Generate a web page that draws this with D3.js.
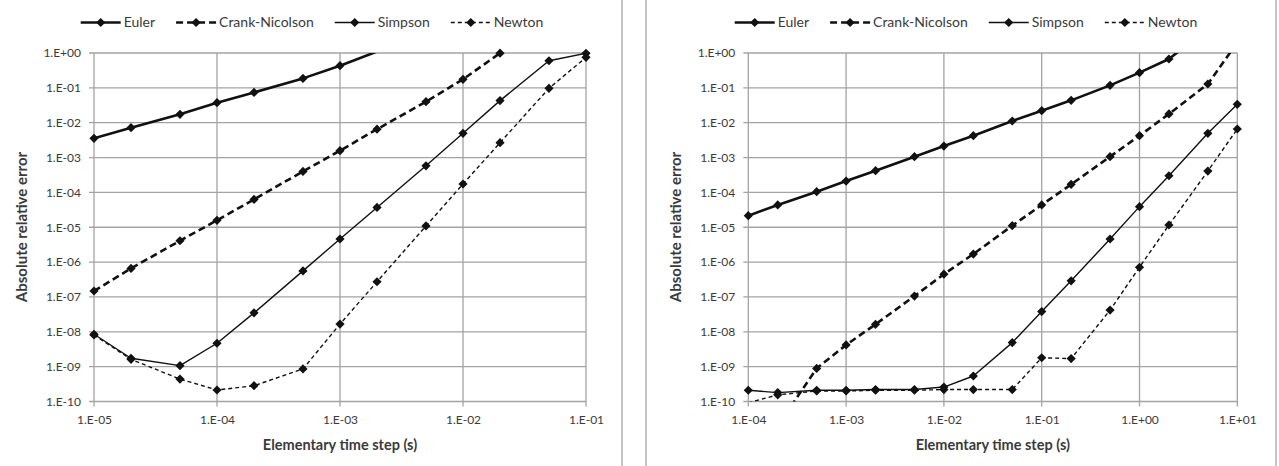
<!DOCTYPE html>
<html><head><meta charset="utf-8">
<script src="https://cdn.jsdelivr.net/npm/d3@7"></script>
<style>
html,body{margin:0;padding:0;background:#fff;}
svg{display:block;font-family:Lato,"Open Sans",sans-serif;}
</style></head>
<body>
<svg id="chart" width="1279" height="466"></svg>
<script>
// ---------- DATA ----------
const seriesNames = ["Euler", "Crank-Nicolson", "Simpson", "Newton"];

const leftSteps = [1e-5, 2e-5, 5e-5, 1e-4, 2e-4, 5e-4, 1e-3, 2e-3, 5e-3, 1e-2, 2e-2, 5e-2, 1e-1];
const leftEuler = [3.56e-3, 7.2e-3, 1.74e-2, 3.76e-2, 7.4e-2, 0.187, 0.433, 1.1, null, null, null, null, null];
const leftCrank = [1.48e-7, 6.6e-7, 4.1e-6, 1.58e-5, 6.3e-5, 4.0e-4, 1.58e-3, 6.5e-3, 0.040, 0.176, 0.99, null, null];
const leftSimpson = [8.5e-9, 1.74e-9, 1.07e-9, 4.7e-9, 3.5e-8, 5.6e-7, 4.6e-6, 3.7e-5, 5.8e-4, 4.95e-3, 0.043, 0.60, 0.98];
const leftNewton = [8.1e-9, 1.62e-9, 4.4e-10, 2.14e-10, 2.84e-10, 8.6e-10, 1.67e-8, 2.73e-7, 1.09e-5, 1.74e-4, 2.67e-3, 0.097, 0.75];

const rightSteps = [1e-4, 2e-4, 5e-4, 1e-3, 2e-3, 5e-3, 1e-2, 2e-2, 5e-2, 1e-1, 2e-1, 5e-1, 1, 2, 5, 10];
const rightEuler = [2.15e-5, 4.36e-5, 1.05e-4, 2.12e-4, 4.2e-4, 1.06e-3, 2.14e-3, 4.25e-3, 1.12e-2, 2.21e-2, 4.38e-2, 0.118, 0.273, 0.673, 5, null];
const rightCrank = [1e-11, 2e-11, 8.9e-10, 4.2e-9, 1.64e-8, 1.06e-7, 4.5e-7, 1.7e-6, 1.11e-5, 4.36e-5, 1.7e-4, 1.06e-3, 4.25e-3, 1.78e-2, 0.129, 2.0];
const rightSimpson = [2.1e-10, 1.8e-10, 2.1e-10, 2.1e-10, 2.2e-10, 2.2e-10, 2.6e-10, 5.4e-10, 4.9e-9, 3.8e-8, 2.9e-7, 4.6e-6, 3.9e-5, 3.0e-4, 4.95e-3, 3.37e-2];
const rightNewton = [9.2e-11, 1.55e-10, 2.0e-10, 2.0e-10, 2.1e-10, 2.1e-10, 2.2e-10, 2.2e-10, 2.2e-10, 1.8e-9, 1.7e-9, 4.2e-8, 7.1e-7, 1.16e-5, 4.1e-4, 6.6e-3];

const leftXTicks = [1e-5, 1e-4, 1e-3, 1e-2, 1e-1];
const rightXTicks = [1e-4, 1e-3, 1e-2, 1e-1, 1, 10];
const yTicks = [1, 1e-1, 1e-2, 1e-3, 1e-4, 1e-5, 1e-6, 1e-7, 1e-8, 1e-9, 1e-10];

const xTitle = "Elementary time step (s)";
const yTitle = "Absolute relative error";

// ---------- STYLE ----------
const styles = [
  {width: 2.6, dash: null},
  {width: 2.6, dash: "7,4"},
  {width: 1.4, dash: null},
  {width: 1.4, dash: "4,3"}
];
const ink = "#111";
const textColor = "#3a3a3a";
const gridColor = "#a3a3a3";

function expFmt(v) {
  const e = Math.round(Math.log10(v));
  const s = e < 0 ? "-" : "+";
  const a = Math.abs(e);
  return "1.E" + s + (a < 10 ? "0" + a : "" + a);
}

const svg = d3.select("#chart");

function drawPanel(opt, idx) {
  const g = svg.append("g");
  g.append("rect").attr("x", opt.frame[0]).attr("y", -3)
    .attr("width", opt.frame[1] - opt.frame[0]).attr("height", 472)
    .attr("fill", "#fff").attr("stroke", "#c4c4c4").attr("stroke-width", 2);

  const x = d3.scaleLog().domain(opt.xDomain).range([opt.left, opt.right]);
  const y = d3.scaleLog().domain([1e-10, 1]).range([401.5, 53]);

  g.append("g").selectAll("line").data(yTicks).join("line")
    .attr("x1", opt.left - 5).attr("x2", opt.right)
    .attr("y1", d => y(d)).attr("y2", d => y(d))
    .attr("stroke", gridColor).attr("stroke-width", 1.3);
  g.append("g").selectAll("line").data(opt.xTicks).join("line")
    .attr("x1", d => x(d)).attr("x2", d => x(d))
    .attr("y1", 53).attr("y2", 401.5 + 5)
    .attr("stroke", gridColor).attr("stroke-width", 1.3);

  const yAxis = d3.axisLeft(y).tickValues(yTicks).tickFormat(expFmt).tickSize(0).tickPadding(13);
  const ya = g.append("g").attr("transform", `translate(${opt.left},0)`).call(yAxis);
  const xAxis = d3.axisBottom(x).tickValues(opt.xTicks).tickFormat(expFmt).tickSize(0).tickPadding(14);
  const xa = g.append("g").attr("transform", `translate(0,401.5)`).call(xAxis);
  [ya, xa].forEach(a => {
    a.select(".domain").remove();
    a.selectAll("text").attr("fill", textColor).style("font-size", "12px").style("font-family", "Lato");
  });

  g.append("text").attr("x", (opt.left + opt.right) / 2).attr("y", 450)
    .attr("text-anchor", "middle").attr("fill", textColor)
    .style("font-size", "14.5px").style("font-weight", "bold").text(xTitle);
  g.append("text").attr("transform", `translate(${opt.frame[0] + 35},227) rotate(-90)`)
    .attr("text-anchor", "middle").attr("fill", textColor)
    .style("font-size", "15px").style("font-weight", "bold").text(yTitle);

  const cid = "clip" + idx;
  svg.append("defs").append("clipPath").attr("id", cid)
    .append("rect").attr("x", opt.left).attr("y", 53)
    .attr("width", opt.right - opt.left).attr("height", 401.5 - 53);

  const line = d3.line().defined(d => d[1] != null).x(d => x(d[0])).y(d => y(d[1]));
  const diamond = "M0,-4.6L4.6,0L0,4.6L-4.6,0Z";

  opt.series.forEach((vals, i) => {
    const pts = opt.steps.map((s, k) => [s, vals[k]]);
    g.append("path").datum(pts).attr("d", line)
      .attr("clip-path", `url(#${cid})`)
      .attr("fill", "none").attr("stroke", ink)
      .attr("stroke-width", styles[i].width)
      .attr("stroke-dasharray", styles[i].dash)
      .attr("stroke-linejoin", "round");
    g.append("g").selectAll("path").data(pts.filter(d => d[1] != null && d[1] >= 1e-10 * 0.98 && d[1] <= 1.02))
      .join("path").attr("d", diamond)
      .attr("transform", d => `translate(${x(d[0])},${y(d[1])})`)
      .attr("fill", ink);
  });

  const lg = g.append("g").attr("transform", `translate(0,22.5)`);
  let cx = opt.frame[0] + 88.7;
  seriesNames.forEach((name, i) => {
    lg.append("line").attr("x1", cx).attr("x2", cx + 40).attr("y1", 0).attr("y2", 0)
      .attr("stroke", ink).attr("stroke-width", styles[i].width)
      .attr("stroke-dasharray", styles[i].dash);
    lg.append("path").attr("d", diamond).attr("transform", `translate(${cx + 20},0)`).attr("fill", ink);
    const t = lg.append("text").attr("x", cx + 43).attr("y", 0).attr("dy", "0.35em")
      .attr("fill", textColor).style("font-size", "14px").text(name);
    const w = t.node().getComputedTextLength();
    cx += 43 + w + 21;
  });
}

drawPanel({
  frame: [-8, 622], left: 94, right: 586,
  xDomain: [1e-5, 1e-1], xTicks: leftXTicks, steps: leftSteps,
  series: [leftEuler, leftCrank, leftSimpson, leftNewton]
}, 0);

drawPanel({
  frame: [646, 1276], left: 748.3, right: 1237.3,
  xDomain: [1e-4, 10], xTicks: rightXTicks, steps: rightSteps,
  series: [rightEuler, rightCrank, rightSimpson, rightNewton]
}, 1);
</script>
</body></html>
